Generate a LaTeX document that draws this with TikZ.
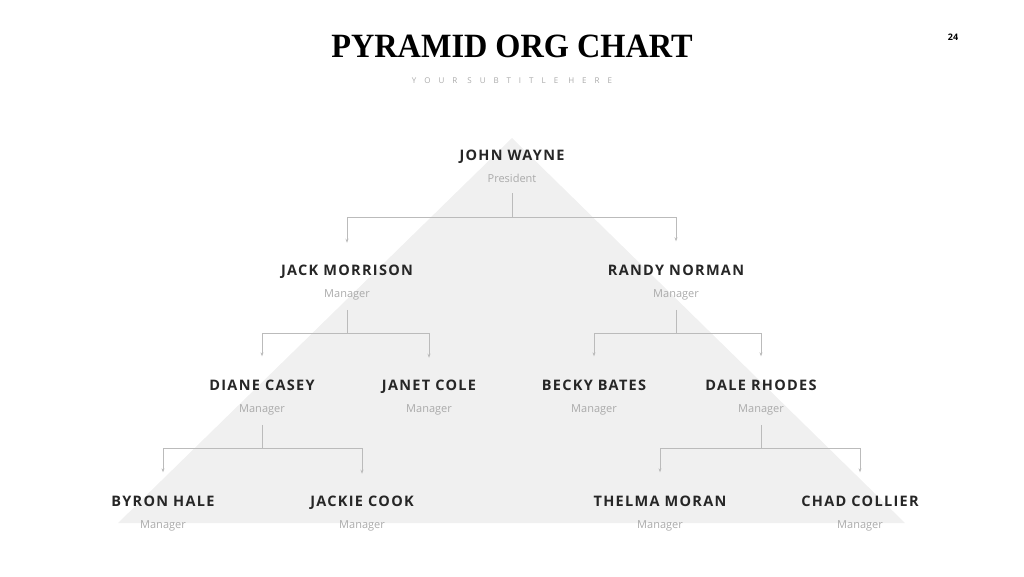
\documentclass[tikz,border=0pt]{standalone}
\usepackage{fontspec}
\usetikzlibrary{calc,arrows.meta}
\setmainfont{Liberation Serif}
\newfontfamily\namefont[LetterSpace=9]{Open Sans}
\newfontfamily\rolefont{Open Sans}
\newfontfamily\subfont[LetterSpace=100]{Open Sans}
\definecolor{pyr}{HTML}{F0F0F0}
\definecolor{ln}{HTML}{BBBBBB}
\definecolor{rolec}{HTML}{AAAAAA}
\begin{document}
\begin{tikzpicture}[x=1pt,y=-1pt,
  nm/.style={font=\namefont\bfseries\fontsize{14.5}{16}\selectfont,text=black!85,inner sep=0,anchor=base},
  rl/.style={font=\rolefont\fontsize{11}{13}\selectfont,text=rolec,inner sep=0,anchor=base},
  line/.style={draw=ln,line width=1pt},
  arr/.style={line,-{Stealth[length=4pt,width=3pt]}}]
\useasboundingbox (0,0) rectangle (1024,576);
\fill[pyr] (512,138) -- (905,523) -- (118,523) -- cycle;
\node[font=\bfseries\fontsize{34}{38}\selectfont,scale=1.0,xscale=0.95] (title) at (512,46) {PYRAMID ORG CHART};
\node[font=\subfont\fontsize{8}{10}\selectfont,text=rolec] (sub) at (512,81) {YOUR SUBTITLE HERE};
\node[font=\rolefont\bfseries\fontsize{9}{10}\selectfont] (pg) at (953,37) {24};
\foreach \id/\x/\y/\n/\r in {jw/512/155/JOHN WAYNE/President,
  jm/347/270/JACK MORRISON/Manager, rn/676/270/RANDY NORMAN/Manager,
  dc/262/385/DIANE CASEY/Manager, jc/429/385/JANET COLE/Manager,
  bb/594/385/BECKY BATES/Manager, dr/761/385/DALE RHODES/Manager,
  bh/163/501/BYRON HALE/Manager, jk/362/501/JACKIE COOK/Manager,
  tm/660/501/THELMA MORAN/Manager, cc/860/501/CHAD COLLIER/Manager}{
  \node[nm] (\id) at (\x,\y+5.5) {\n};
  \node[rl] (\id r) at (\x,\y+27.5) {\r};
}
\foreach \p/\a/\b in {jw/jm/rn, jm/dc/jc, rn/bb/dr, dc/bh/jk, dr/tm/cc}{
  \draw[line] ($(\p r)+(0,15)$) -- ++(0,24) coordinate (\p m);
  \draw[arr] (\p m) -| ($(\a)+(0,-29)$);
  \draw[arr] (\p m) -| ($(\b)+(0,-29)$);
}
\end{tikzpicture}
\end{document}
